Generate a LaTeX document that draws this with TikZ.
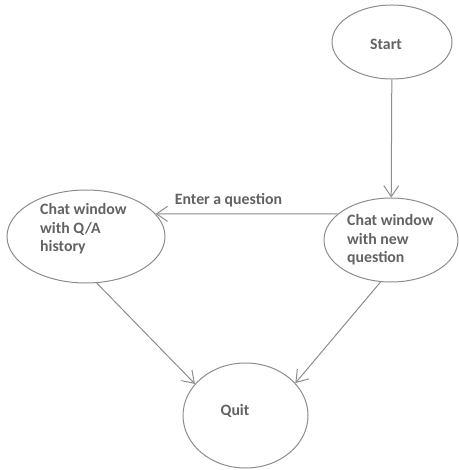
\documentclass[tikz,border=0pt]{standalone}
\usepackage{fontspec}
\setmainfont{Carlito}
\usetikzlibrary{shapes.geometric,arrows.meta}
\definecolor{linegray}{RGB}{140,140,140}
\definecolor{textgray}{RGB}{100,98,96}
\tikzset{
    bubble/.style={ellipse, draw=linegray, line width=1bp, inner sep=0pt},
    caption/.style={font=\fontsize{15.8bp}{18.5bp}\selectfont\bfseries, text=textgray, inner sep=0pt, align=left},
    flow/.style={draw=linegray, line width=1bp, -{Straight Barb[length=11bp,width=15bp]}}
}

\begin{document}
\begin{tikzpicture}[x=1bp,y=-1bp]
    \useasboundingbox (0,0) rectangle (459,470);

    % States
    \node[bubble, minimum width=120bp, minimum height=74bp] (start) at (392,42) {};
    \node[bubble, minimum width=134bp, minimum height=84bp] (newq) at (391,240) {};
    \node[bubble, minimum width=158bp, minimum height=93bp] (history) at (86,236.5) {};
    \node[bubble, minimum width=125bp, minimum height=105bp] (quit) at (245.5,415.5) {};

    % Texts
    \node[caption] (start-txt) at (386,44) {Start};
    \node[caption, anchor=west] (newq-txt) at (347,240) {Chat window\\with new\\question};
    \node[caption, anchor=west] (history-txt) at (40,229) {Chat window\\with Q/A\\history};
    \node[caption] (quit-txt) at (235,411) {Quit};

    % Transitions
    \draw[flow] (start) -- (newq);
    \draw[flow] (newq.154) -- (history.18)
        node[caption, pos=0.6, above=6bp] (enter-lbl) {Enter a question};
    \draw[flow] (history.283.6) -- (quit.148.9);
    \draw[flow] (newq.256) -- (quit.33.3);
\end{tikzpicture}
\end{document}
